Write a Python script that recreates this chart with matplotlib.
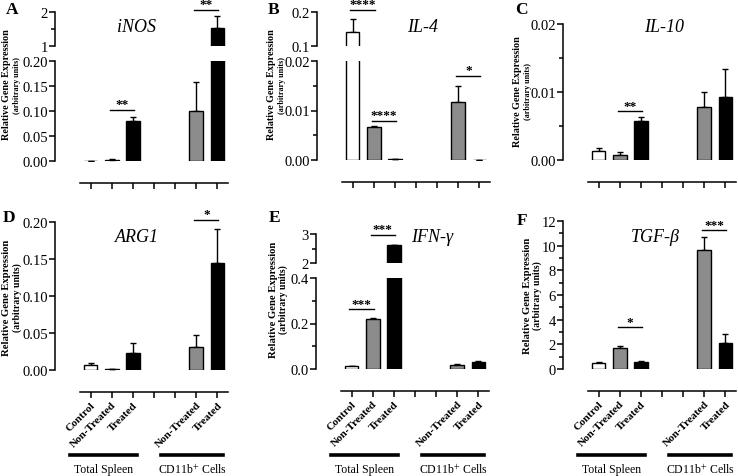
import matplotlib
matplotlib.use("Agg")
import matplotlib.pyplot as plt
import matplotlib.transforms as mtransforms
from matplotlib.ticker import MultipleLocator, FormatStrFormatter

plt.rcParams["font.family"] = ["Liberation Serif", "DejaVu Serif"]
plt.rcParams["mathtext.fontset"] = "stix"

W, H = 738, 477

# categories / groups
tick_labels = ["Control", "Non-Treated", "Treated", "", "", "Non-Treated", "Treated"]
bar_pos = [0, 1, 2, 5, 6]
bar_colors = ["white", "#8c8c8c", "black", "#8c8c8c", "black"]
groups = ["Total Spleen", "CD11b$^{+}$ Cells"]

# mean values and upper error (SEM) per gene
inos_mean = [0.0004, 0.003, 0.080, 0.101, 1.52]
inos_err = [0.0, 0.002, 0.008, 0.057, 0.36]
il4_mean = [0.141, 0.0067, 0.0003, 0.0117, 0.0001]
il4_err = [0.038, 0.0001, 0.0, 0.0032, 0.0]
il10_mean = [0.0013, 0.0008, 0.0058, 0.0078, 0.0092]
il10_err = [0.0004, 0.0004, 0.0005, 0.0022, 0.0042]
arg1_mean = [0.0072, 0.001, 0.0225, 0.0315, 0.1446]
arg1_err = [0.0018, 0.0, 0.0145, 0.0155, 0.0454]
ifng_mean = [0.012, 0.22, 2.625, 0.018, 0.032]
ifng_err = [0.002, 0.006, 0.01, 0.004, 0.002]
tgfb_mean = [0.46, 1.68, 0.54, 9.65, 2.14]
tgfb_err = [0.08, 0.21, 0.08, 1.08, 0.67]

# significance brackets: (from, to, height, stars, segment)
inos_sig = [(1, 2, 0.102, "**", 0), (5, 6, 2.06, "**", 1)]
il4_sig = [(0, 1, 0.206, "****", 1), (1, 2, 0.0079, "****", 0), (5, 6, 0.017, "*", 0)]
il10_sig = [(1, 2, 0.0072, "**", 0)]
arg1_sig = [(5, 6, 0.203, "*", 0)]
ifng_sig = [(0, 1, 0.262, "***", 0), (1, 2, 2.97, "***", 1)]
tgfb_sig = [(1, 2, 3.38, "*", 0), (5, 6, 11.27, "***", 0)]

fig = plt.figure(figsize=(W / 100, H / 100), dpi=100)


def box(x0, y0, x1, y1):
    return [x0 / W, 1 - y1 / H, (x1 - x0) / W, (y1 - y0) / H]


def seg_axes(rect, ylim, major, minor, fmt, bottom=True):
    ax = fig.add_axes(box(*rect))
    ax.set_xlim(-0.5, 6.5)
    ax.set_ylim(*ylim)
    ax.patch.set_alpha(0)
    ax.spines["top"].set_visible(False)
    ax.spines["right"].set_visible(False)
    ax.spines["left"].set_position(("outward", 18))
    ax.spines["left"].set_linewidth(1.1)
    ax.yaxis.set_major_locator(MultipleLocator(major))
    if minor:
        ax.yaxis.set_minor_locator(MultipleLocator(minor))
    ax.yaxis.set_major_formatter(FormatStrFormatter(fmt))
    ax.tick_params(axis="y", which="both", direction="out", width=1.1, labelsize=10.5, pad=1)
    ax.tick_params(axis="y", which="major", length=4)
    ax.tick_params(axis="y", which="minor", length=3)
    if bottom:
        ax.spines["bottom"].set_position(("outward", 16))
        ax.spines["bottom"].set_linewidth(1.1)
        ax.set_xticks(range(7))
        ax.tick_params(axis="x", direction="out", length=4.5, width=1.1, pad=1)
    else:
        ax.spines["bottom"].set_visible(False)
        ax.set_xticks([])
    return ax


def draw_bars(ax, mean, err):
    ax.bar(bar_pos, mean, width=0.65, color=bar_colors, edgecolor="black", linewidth=1, zorder=2)
    ax.errorbar(bar_pos, mean, yerr=[[0] * len(err), err], fmt="none", ecolor="black",
                elinewidth=1, capsize=2.5, capthick=1, zorder=1)


def draw_sig(axes, sig):
    for i, j, h, stars, s in sig:
        ax = axes[s]
        ax.plot([i - 0.1, j + 0.05], [h, h], color="black", lw=1, clip_on=False)
        ax.annotate(stars, ((i + j) / 2 - 0.02, h), xytext=(0, 1.8), textcoords="offset points",
                    ha="center", va="baseline", fontsize=9.5, fontweight="bold",
                    annotation_clip=False)


def panel(letter, gene, mean, err, sig, low, high, label_pos, letter_pos, title_pos, row):
    ax = seg_axes(*low)
    draw_bars(ax, mean, err)
    axes = [ax]
    if high is not None:
        ax2 = seg_axes(*high, bottom=False)
        draw_bars(ax2, mean, err)
        axes.append(ax2)
    draw_sig(axes, sig)

    if row == 0:
        ax.set_xticklabels([])
    else:
        ax.set_xticklabels(tick_labels, rotation=45, ha="right", va="top", rotation_mode="anchor",
                           fontweight="bold", fontsize=8)
        tr = mtransforms.blended_transform_factory(ax.transData, fig.transFigure)
        for (x0, x1), name in zip([(-0.95, 2.2), (3.33, 6.28)], groups):
            ax.plot([x0, x1], [1 - 456 / H] * 2, color="black", lw=2.6, transform=tr, clip_on=False)
            ax.text((x0 + x1) / 2, 1 - 470 / H, name, transform=tr, ha="center", va="center",
                    fontsize=8.5)

    lx, ly = label_pos
    s1, s2 = (7.3, 5.8) if row == 0 else (7.7, 7.0)
    fig.text(lx / W, 1 - ly / H, "Relative Gene Expression", rotation=90, ha="center", va="center",
             fontsize=s1, fontweight="bold")
    fig.text((lx + 10) / W, 1 - ly / H, "(arbitrary units)", rotation=90, ha="center", va="center",
             fontsize=s2, fontweight="bold")
    fig.text(letter_pos[0] / W, 1 - letter_pos[1] / H, letter, ha="center", va="center",
             fontsize=12.5, fontweight="bold")
    fig.text(title_pos[0] / W, 1 - title_pos[1] / H, gene, ha="center", va="center",
             fontsize=13, fontstyle="italic")


panel("A", "iNOS", inos_mean, inos_err, inos_sig,
      ((80, 62, 228, 162), (0, 0.20), 0.05, None, "%.2f"),
      ((80, 13, 228, 47), (1, 2), 1, 0.5, "%d"),
      (7, 85), (12, 10), (137, 28), 0)
panel("B", "IL-4", il4_mean, il4_err, il4_sig,
      ((342, 62, 490, 161), (0, 0.02), 0.01, 0.005, "%.2f"),
      ((342, 13, 490, 47), (0.1, 0.2), 0.1, None, "%.1f"),
      (272, 85), (274, 10), (423, 28), 0)
panel("C", "IL-10", il10_mean, il10_err, il10_sig,
      ((588, 25, 736, 161), (0, 0.02), 0.01, 0.005, "%.2f"),
      None,
      (518, 92), (521, 10), (664, 28), 0)
panel("D", "ARG1", arg1_mean, arg1_err, arg1_sig,
      ((80, 223, 228, 371), (0, 0.20), 0.05, None, "%.2f"),
      None,
      (7, 298), (9, 218), (137, 238), 1)
panel("E", "IFN-γ", ifng_mean, ifng_err, ifng_sig,
      ((341, 279, 489, 370), (0, 0.4), 0.2, 0.1, "%.1f"),
      ((341, 235, 489, 264), (2, 3), 1, 0.5, "%d"),
      (273, 300), (275, 218), (432, 238), 1)
panel("F", "TGF-β", tgfb_mean, tgfb_err, tgfb_sig,
      ((588, 222, 736, 370), (0, 12), 2, 1, "%d"),
      None,
      (527, 296), (522, 221), (655, 238), 1)

fig.savefig("out.png", dpi=100)
